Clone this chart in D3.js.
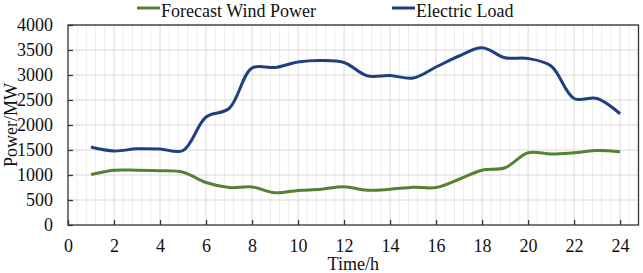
<!DOCTYPE html>
<meta charset="utf-8" />
<title>Forecast Wind Power and Electric Load</title>
<style>
  body { margin: 0; background: #fff; }
  svg { display: block; }
  svg text { font-family: "Liberation Serif", "Times New Roman", serif !important; fill: #111; }
</style>
<body>
<svg width="643" height="273"></svg>
<script src="https://d3js.org/d3.v7.min.js"></script>
<script>
  const width = 643, height = 273;

  // hours 1..24
  const hours = d3.range(1, 25);
  const windPower = [1010, 1095, 1095, 1085, 1055, 850, 750, 760, 645, 690,
                     715, 765, 695, 715, 755, 750, 915, 1095, 1145, 1445,
                     1420, 1445, 1490, 1465];
  const electricLoad = [1560, 1480, 1525, 1520, 1490, 2160, 2330, 3140, 3150, 3260,
                        3290, 3250, 2985, 2990, 2940, 3160, 3380, 3545, 3345, 3330,
                        3180, 2530, 2530, 2225];
  const xTicks = d3.range(0, 25, 2);
  const yTicks = d3.range(0, 4001, 500);

  const series = [
    { name: "Forecast Wind Power", values: windPower, color: "#548235" },
    { name: "Electric Load", values: electricLoad, color: "#203f80" }
  ];

  const margin = { left: 68, right: 4.5, top: 25, bottom: 48 };
  const svg = d3.select("svg");

  const x = d3.scaleLinear().domain([0, 24.8]).range([margin.left, width - margin.right]);
  const y = d3.scaleLinear().domain([0, 4000]).range([height - margin.bottom, margin.top]);

  const x0 = x.range()[0], x1 = x.range()[1];
  const y0 = y.range()[0], y1 = y.range()[1];

  // minor vertical grid every 0.4 h
  svg.append("g")
    .selectAll("line")
    .data(d3.range(0.4, 24.8, 0.4).filter(v => Math.abs(v / 2 - Math.round(v / 2)) > 0.01))
    .join("line")
    .attr("x1", d => x(d)).attr("x2", d => x(d))
    .attr("y1", y0).attr("y2", y1)
    .attr("stroke", "#ececec").attr("stroke-width", 1);

  // major grid
  svg.append("g")
    .selectAll("line")
    .data(xTicks.slice(1))
    .join("line")
    .attr("x1", d => x(d)).attr("x2", d => x(d))
    .attr("y1", y0).attr("y2", y1)
    .attr("stroke", "#d9d9d9").attr("stroke-width", 1);

  svg.append("g")
    .selectAll("line")
    .data(yTicks.slice(1))
    .join("line")
    .attr("x1", x0).attr("x2", x1)
    .attr("y1", d => y(d)).attr("y2", d => y(d))
    .attr("stroke", "#d9d9d9").attr("stroke-width", 1);

  // axes with inward ticks
  const xAxis = svg.append("g")
    .attr("transform", `translate(0,${y0})`)
    .call(d3.axisBottom(x).tickValues(xTicks).tickFormat(d3.format("d"))
      .tickSizeInner(-5).tickSizeOuter(0).tickPadding(17));
  const yAxis = svg.append("g")
    .attr("transform", `translate(${x0},0)`)
    .call(d3.axisLeft(y).tickValues(yTicks).tickFormat(d3.format("d"))
      .tickSizeInner(-5).tickSizeOuter(0).tickPadding(15));

  [xAxis, yAxis].forEach(a => {
    a.attr("font-family", null).attr("font-size", null);
    a.select(".domain").remove();
    a.selectAll(".tick line").attr("stroke", "#333").attr("stroke-width", 1.3);
    a.selectAll(".tick text")
      .attr("font-size", 18)
      .attr("fill", "#111");
  });
  xAxis.selectAll(".tick text").attr("dy", "0.55em");

  // plot frame
  svg.append("rect")
    .attr("x", x0).attr("y", y1)
    .attr("width", x1 - x0).attr("height", y0 - y1)
    .attr("fill", "none")
    .attr("stroke", "#333")
    .attr("stroke-width", 1.3);

  // lines
  const line = d3.line()
    .x((d, i) => x(hours[i]))
    .y(d => y(d))
    .curve(d3.curveCatmullRom.alpha(0.5));

  svg.append("g")
    .selectAll("path")
    .data(series)
    .join("path")
    .attr("fill", "none")
    .attr("stroke", d => d.color)
    .attr("stroke-width", 3)
    .attr("stroke-linejoin", "round")
    .attr("d", d => line(d.values));

  // legend
  const legendX = [137, 392];
  const legend = svg.append("g")
    .selectAll("g")
    .data(series)
    .join("g")
    .attr("transform", (d, i) => `translate(${legendX[i]},8)`);
  legend.append("line")
    .attr("x1", 0).attr("x2", 23)
    .attr("stroke", d => d.color)
    .attr("stroke-width", 3);
  legend.append("text")
    .attr("x", 24)
    .attr("y", 9)
    .attr("font-size", 18)
    .text(d => d.name);

  // axis titles
  svg.append("text")
    .attr("x", (x0 + x1) / 2)
    .attr("y", 270)
    .attr("text-anchor", "middle")
    .attr("font-size", 18)
    .text("Time/h");

  svg.append("text")
    .attr("transform", `translate(17,${(y0 + y1) / 2}) rotate(-90)`)
    .attr("text-anchor", "middle")
    .attr("font-size", 18)
    .text("Power/MW");
</script>
</body>
